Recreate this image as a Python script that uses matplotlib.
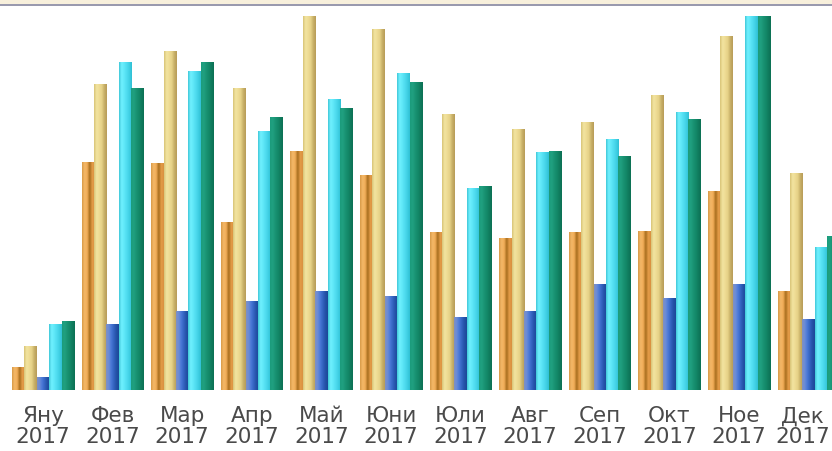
import numpy as np
import matplotlib
matplotlib.use("Agg")
import matplotlib.pyplot as plt
import matplotlib.transforms as mtransforms
from matplotlib.colors import LinearSegmentedColormap
from matplotlib.patches import Rectangle

months = ["Яну", "Фев", "Мар", "Апр", "Май", "Юни", "Юли", "Авг", "Сеп", "Окт", "Ное", "Дек"]
year = "2017"

s_orange = [23, 228, 227, 168, 239, 215, 158, 152, 158, 159, 199, 99]
s_khaki = [44, 306, 339, 302, 374, 361, 276, 261, 268, 295, 354, 217]
s_blue = [13, 66, 79, 89, 99, 94, 73, 79, 106, 92, 106, 71]
s_cyan = [66, 328, 319, 259, 291, 317, 202, 238, 251, 278, 374, 143]
s_green = [69, 302, 328, 273, 282, 308, 204, 239, 234, 271, 374, 154]

series = [s_orange, s_khaki, s_blue, s_cyan, s_green]
gradients = [
    ["#D89A48", "#F4B868", "#F0AC58", "#A86E1E", "#E49C48", "#D89040"],
    ["#D8C478", "#F2E4A0", "#EEDC94", "#E6D288", "#C8B068", "#B89C58"],
    ["#8090C0", "#6A8CD8", "#4A78D8", "#3464C0", "#2452A8", "#1C4898"],
    ["#40C8D8", "#70F0FF", "#60E8F8", "#50DCF0", "#40D0E4", "#30C0D4"],
    ["#1C9C7C", "#20A080", "#1A9474", "#148A6A", "#107C5E", "#0C7054"],
]

W, H = 832, 452
fig = plt.figure(figsize=(W / 100, H / 100), dpi=100)
fig.patch.set_facecolor("white")

# top band and line
fig.patches.append(Rectangle((0, 1 - 5 / H), 1, 5 / H, transform=fig.transFigure,
                             facecolor="#F8F0DC", edgecolor="none", zorder=0))
fig.patches.append(Rectangle((0, 1 - 7 / H), 1, 2 / H, transform=fig.transFigure,
                             facecolor="#9A9AAE", edgecolor="none", zorder=1))

base_px = 391
top_px = 7
ax = fig.add_axes([0, (H - base_px) / H, 1, (base_px - top_px) / H])
ax.set_facecolor("none")

period = 69.6
center0 = 43.0
bw = 12.4 / period

x = np.arange(len(months))
grad = np.linspace(0, 1, 64).reshape(1, -1)
for j, (vals, stops) in enumerate(zip(series, gradients)):
    cmap = LinearSegmentedColormap.from_list(f"g{j}", stops)
    bars = ax.bar(x + (j - 2) * bw, vals, width=bw, color=stops[2], edgecolor="none", zorder=2)
    for b in bars:
        x0, y0 = b.get_x(), b.get_y()
        im = ax.imshow(grad, cmap=cmap, aspect="auto", interpolation="bilinear",
                       extent=(x0, x0 + b.get_width(), y0, y0 + b.get_height()), zorder=3)
        im.set_clip_path(b)

ax.set_xlim(-center0 / period, (W - center0) / period)
ax.set_ylim(0, base_px - top_px)

for sp in ax.spines.values():
    sp.set_visible(False)
ax.set_yticks([])
ax.set_xticks(x)
labels = ax.set_xticklabels([f"{m}\n{year}" for m in months], fontsize=15.5, color="#4A4A4A",
                            linespacing=1.05, family="DejaVu Sans")
ax.tick_params(axis="x", length=0, pad=11)

# keep the last label inside the picture
last = labels[-1]
last.set_transform(last.get_transform() + mtransforms.ScaledTranslation(-6 / 100, 0, fig.dpi_scale_trans))

fig.savefig("out.png", dpi=100, facecolor="white")
